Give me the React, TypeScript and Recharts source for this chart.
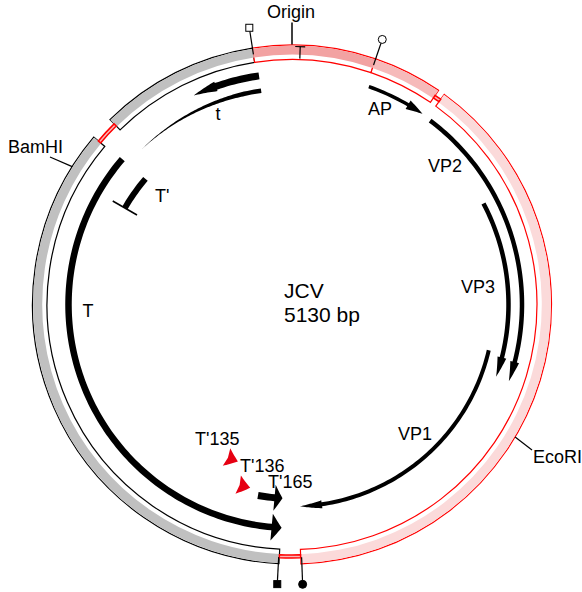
import { PieChart, Pie, Cell } from "recharts";

const genomeLength = 5130;

// outer ring: coloured blocks and the thin links between them (bp)
const ringBlocks = [
  { id: "ncr", start: 5005, end: 268 },
  { id: "agno", start: 268, end: 490 },
  { id: "late", start: 512, end: 2537 },
  { id: "early2", start: 2606, end: 4420 },
  { id: "early1", start: 4495, end: 5005 },
];
const ringLinks = [
  { id: "link", start: 490, end: 512 },
  { id: "link", start: 2537, end: 2606 },
  { id: "link", start: 4420, end: 4495 },
];

// genes (bp), strand 1 = clockwise
const genes = [
  { name: "AP", start: 277, end: 490, strand: 1 },
  { name: "VP2", start: 526, end: 1560, strand: 1 },
  { name: "VP3", start: 886, end: 1560, strand: 1 },
  { name: "VP1", start: 1469, end: 2533, strand: 1 },
  { name: "T", start: 2603, end: 4426, strand: -1 },
  { name: "T1", start: 4771, end: 5013, strand: -1 },
  { name: "t", start: 4495, end: 5013, strand: -1 },
  { name: "T'", start: 4275, end: 4426, strand: -1 },
  { name: "T'165", start: 2605, end: 2709, strand: -1 },
  { name: "T'136", start: 2748, end: 2802, strand: -1 },
  { name: "T'135", start: 2836, end: 2896, strand: -1 },
];

// point features on the ring (bp)
const sites = [
  { name: "Origin", kind: "origin", pos: 0 },
  { name: "T", kind: "tmark", pos: 26 },
  { name: "start-early", kind: "openSquare", pos: 5005 },
  { name: "start-late", kind: "openCircle", pos: 268 },
  { name: "end-late", kind: "fillCircle", pos: 2534 },
  { name: "end-early", kind: "fillSquare", pos: 2608 },
  { name: "EcoRI", kind: "leader", pos: 1720 },
  { name: "BamHI", kind: "leader", pos: 4305 },
];

const labels = ["Origin", "t", "AP", "BamHI", "T'", "VP2", "VP3", "T", "VP1", "EcoRI", "T'135", "T'136", "T'165"];

// ---- layout / styles ----
const CX = 292;
const CY = 304.5;
const RED = "#ff0000";
const ARROW_RED = "#e60012";

const blockFill: Record<string, string> = {
  ncr: "#f2a2a2",
  agno: "#f6baba",
  late: "#fbdada",
  early2: "#c0c0c0",
  early1: "#c0c0c0",
};
const blockStroke: Record<string, string> = {
  ncr: RED,
  agno: RED,
  late: RED,
  early2: "#000",
  early1: "#000",
};

type GS = { r: number; w: number; head: number; headW: number; color?: string; bar?: number; notch?: number };
const geneStyle: Record<string, GS> = {
  AP: { r: 231, w: 3.5, head: 17, headW: 10 },
  VP2: { r: 230, w: 4.5, head: 20, headW: 9 },
  VP3: { r: 216.5, w: 4.5, head: 20, headW: 9 },
  VP1: { r: 202, w: 4, head: 22, headW: 8 },
  T: { r: 223.5, w: 6.5, head: 10, headW: 27 },
  T1: { r: 231, w: 7, head: 24, headW: 10 },
  t: { r: 216, w: 4.5, head: 120, headW: 4.5 },
  "T'": { r: 193, w: 6, head: 0, headW: 0, bar: 28 },
  "T'165": { r: 194, w: 7, head: 8, headW: 26 },
  "T'136": { r: 188, w: 0, head: 13, headW: 19, color: ARROW_RED, notch: 1.5 },
  "T'135": { r: 166, w: 0, head: 13, headW: 19, color: ARROW_RED, notch: 1.5 },
};

const labelPos: Record<string, [number, number, string]> = {
  Origin: [291, 18, "middle"],
  t: [218, 120, "middle"],
  AP: [368, 115, "start"],
  BamHI: [8, 153, "start"],
  "T'": [155, 202, "start"],
  VP2: [428, 172, "start"],
  VP3: [461, 293, "start"],
  T: [82.5, 317, "start"],
  VP1: [398, 440, "start"],
  EcoRI: [533, 463, "start"],
  "T'135": [195, 445, "start"],
  "T'136": [240, 472, "start"],
  "T'165": [268, 488, "start"],
};
const leaderEnd: Record<string, [number, number]> = {
  BamHI: [50, 157],
  EcoRI: [532, 450],
};

const RAD = Math.PI / 180;
const pt = (cx: number, cy: number, r: number, a: number) =>
  [cx + r * Math.cos(-a * RAD), cy + r * Math.sin(-a * RAD)] as [number, number];

function buildTrack(items: any[], from: number) {
  const rel = items
    .map((it) => {
      const s = (it.start - from + genomeLength) % genomeLength;
      let e = (it.end - from + genomeLength) % genomeLength;
      if (e <= s) e += genomeLength;
      return { ...it, s, e };
    })
    .sort((a, b) => a.s - b.s);
  const out: any[] = [];
  let cur = 0;
  rel.forEach((it) => {
    if (it.s > cur) out.push({ id: "gap", value: it.s - cur });
    out.push({ ...it, value: it.e - it.s });
    cur = it.e;
  });
  if (cur < genomeLength) out.push({ id: "gap", value: genomeLength - cur });
  return out;
}

const angleOf = (bp: number) => 90 - (bp / genomeLength) * 360;

function arrowPath(cx: number, cy: number, a0: number, a1: number, st: GS, dir: number) {
  const { r, w, head, headW } = st;
  const span = a0 - a1;
  const headDeg = Math.min(span, head / r / RAD);
  const tail = dir > 0 ? a0 : a1;
  const tip = dir > 0 ? a1 : a0;
  const base = dir > 0 ? a1 + headDeg : a0 - headDeg;
  const pts: [number, number][] = [];
  const nb = Math.max(2, Math.ceil(Math.abs(base - tail)));
  const nh = Math.max(2, Math.ceil(headDeg * 2));
  if (w > 0) for (let i = 0; i <= nb; i++) pts.push(pt(cx, cy, r + w / 2, tail + ((base - tail) * i) / nb));
  if (headDeg > 0) {
    for (let i = 0; i <= nh; i++) {
      const t = i / nh;
      pts.push(pt(cx, cy, r + (headW / 2) * (1 - t), base + (tip - base) * t));
    }
    for (let i = 0; i <= nh; i++) {
      const t = i / nh;
      pts.push(pt(cx, cy, r - (headW / 2) * t, tip + (base - tip) * t));
    }
    if (st.notch) {
      const nd = (st.notch / r / RAD) * (dir > 0 ? -1 : 1);
      pts.push(pt(cx, cy, r, base + nd));
    }
  }
  if (w > 0) for (let i = 0; i <= nb; i++) pts.push(pt(cx, cy, r - w / 2, base + ((tail - base) * i) / nb));
  return "M" + pts.map((p) => p[0].toFixed(2) + "," + p[1].toFixed(2)).join("L") + "Z";
}

const renderGene = (props: any) => {
  const d = props.payload ?? props;
  if (!d || !d.name || !geneStyle[d.name]) return null;
  const st = geneStyle[d.name];
  const path = arrowPath(props.cx, props.cy, props.startAngle, props.endAngle, st, d.strand);
  let bar = null;
  if (st.bar) {
    const a = d.strand > 0 ? props.endAngle : props.startAngle;
    const p1 = pt(props.cx, props.cy, st.r - st.bar / 2, a);
    const p2 = pt(props.cx, props.cy, st.r + st.bar / 2, a);
    bar = <line x1={p1[0]} y1={p1[1]} x2={p2[0]} y2={p2[1]} stroke="#000" strokeWidth={1.5} />;
  }
  return (
    <g>
      <path d={path} fill={st.color ?? "#000"} />
      {bar}
    </g>
  );
};

const renderSite = (props: any) => {
  const d = props.payload ?? props;
  if (!d || !d.kind) return null;
  const { cx, cy } = props;
  const a = props.startAngle;
  if (d.kind === "origin") {
    const p1 = pt(cx, cy, 260, a);
    const p2 = pt(cx, cy, 282, a);
    return <line x1={p1[0]} y1={p1[1]} x2={p2[0]} y2={p2[1]} stroke="#000" strokeWidth={1.5} />;
  }
  if (d.kind === "tmark") {
    const s1 = pt(cx, cy, 246, a);
    const s2 = pt(cx, cy, 258, a);
    const da = 5 / 258 / RAD;
    const b1 = pt(cx, cy, 258, a + da);
    const b2 = pt(cx, cy, 258, a - da);
    return (
      <g stroke="#000" strokeWidth={1.2}>
        <line x1={s1[0]} y1={s1[1]} x2={s2[0]} y2={s2[1]} />
        <line x1={b1[0]} y1={b1[1]} x2={b2[0]} y2={b2[1]} />
      </g>
    );
  }
  if (d.kind === "leader") {
    const p1 = pt(cx, cy, 259.5, a);
    const e = leaderEnd[d.name];
    return <line x1={p1[0]} y1={p1[1]} x2={e[0]} y2={e[1]} stroke="#000" strokeWidth={1.2} />;
  }
  const l1 = pt(cx, cy, 253, a);
  const l2 = pt(cx, cy, 276.5, a);
  const c = pt(cx, cy, 280, a);
  const filled = d.kind.startsWith("fill");
  const mark = d.kind.endsWith("Square") ? (
    <rect x={c[0] - 3.5} y={c[1] - 3.5} width={7} height={7} fill={filled ? "#000" : "#fff"} stroke="#000" strokeWidth={1} />
  ) : (
    <circle cx={c[0]} cy={c[1]} r={4} fill={filled ? "#000" : "#fff"} stroke="#000" strokeWidth={1} />
  );
  return (
    <g>
      <line x1={l1[0]} y1={l1[1]} x2={l2[0]} y2={l2[1]} stroke="#000" strokeWidth={1.2} />
      {mark}
    </g>
  );
};

const ringFrom = 4420;
const ringData = buildTrack([...ringBlocks, ...ringLinks], ringFrom);
const siteData = buildTrack(
  sites.map((s) => ({ ...s, start: s.pos, end: s.pos + 1 })),
  0
);

const common = {
  cx: CX,
  cy: CY,
  dataKey: "value",
  isAnimationActive: false,
  labelLine: false,
};

export default function App() {
  const ringStart = angleOf(ringFrom);
  return (
    <div style={{ position: "absolute", left: 0, top: 0, width: 582, height: 592 }}>
      <PieChart width={582} height={592} margin={{ top: 0, right: 0, bottom: 0, left: 0 }}>
        {/* ring background + outline */}
        <Pie {...common} data={ringData} startAngle={ringStart} endAngle={ringStart - 360} innerRadius={245} outerRadius={259.5}>
          {ringData.map((d, i) => (
            <Cell
              key={i}
              fill={blockFill[d.id] ? "#fff" : "none"}
              stroke={blockStroke[d.id] ?? "none"}
              strokeWidth={1.2}
            />
          ))}
        </Pie>
        {/* ring shaded band */}
        <Pie {...common} data={ringData} startAngle={ringStart} endAngle={ringStart - 360} innerRadius={249.8} outerRadius={258.9}>
          {ringData.map((d, i) => (
            <Cell key={i} fill={blockFill[d.id] ?? "none"} stroke="none" />
          ))}
        </Pie>
        {/* links */}
        <Pie {...common} data={ringData} startAngle={ringStart} endAngle={ringStart - 360} innerRadius={250.5} outerRadius={253.5}>
          {ringData.map((d, i) => (
            <Cell key={i} fill={d.id === "link" ? "#f9b8b8" : "none"} stroke={d.id === "link" ? RED : "none"} strokeWidth={1.5} />
          ))}
        </Pie>
        {/* sites */}
        <Pie {...common} data={siteData} startAngle={90} endAngle={-270} innerRadius={259} outerRadius={260} label={renderSite}>
          {siteData.map((_, i) => (
            <Cell key={i} fill="none" stroke="none" />
          ))}
        </Pie>
        {/* genes */}
        {genes.map((g) => {
          const data = buildTrack([g], 0);
          const st = geneStyle[g.name];
          return (
            <Pie
              key={g.name}
              {...common}
              data={data}
              startAngle={90}
              endAngle={-270}
              innerRadius={st.r - 1}
              outerRadius={st.r + 1}
              label={renderGene}
            >
              {data.map((_, i) => (
                <Cell key={i} fill="none" stroke="none" />
              ))}
            </Pie>
          );
        })}
      </PieChart>
      <svg
        width={582}
        height={592}
        style={{ position: "absolute", left: 0, top: 0, pointerEvents: "none" }}
        fontFamily="'Liberation Sans', Arial, sans-serif"
        fontSize={18}
      >
        {labels.map((l) => {
          const [x, y, anchor] = labelPos[l];
          return (
            <text key={l} x={x} y={y} textAnchor={anchor as any} fill="#000">
              {l}
            </text>
          );
        })}
        <text x={284} y={298} fontSize={21} fill="#000">JCV</text>
        <text x={284} y={322} fontSize={21} fill="#000">5130 bp</text>
      </svg>
    </div>
  );
}
